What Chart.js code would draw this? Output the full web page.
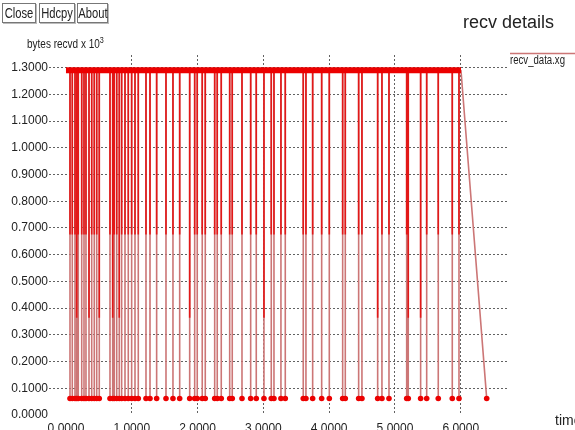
<!DOCTYPE html>
<html>
<head>
<meta charset="utf-8">
<title>recv details</title>
<script src="https://cdn.jsdelivr.net/npm/chart.js@4.4.1/dist/chart.umd.min.js"></script>
<style>
  body { margin: 0; background: #fff; }
  #wrap { position: relative; width: 575px; height: 430px; overflow: hidden;
          font-family: "Liberation Sans", Arial, sans-serif; color: #222; }
  #wrap canvas { position: absolute; left: 0; top: 0; }
  .btn { position: absolute; top: 3px; height: 18px; border: 1px solid #777;
         box-shadow: 1px 1px 0 #bbb; background: #fff; }
  .btn span { position: absolute; left: 50%; top: 0; line-height: 18px; font-size: 14px;
              white-space: nowrap; transform: translateX(-50%) scaleX(0.8); }
  #title { position: absolute; left: 463px; top: 13px; line-height: 18px; font-size: 18px; }
  #ylabel { position: absolute; left: 27px; top: 34px; line-height: 12px; font-size: 12.5px;
            transform: scaleX(0.8); transform-origin: left top; white-space: nowrap; }
  #ylabel sup { font-size: 9px; vertical-align: 5px; }
  #xlabel { position: absolute; left: 555px; top: 413px; font-size: 14px; line-height: 14px;
            white-space: nowrap; }
</style>
</head>
<body>
<div id="wrap">
  <canvas id="recvChart" width="575" height="430"></canvas>
  <div class="btn" style="left:2px;width:32px;"><span>Close</span></div>
  <div class="btn" style="left:39px;width:34px;"><span>Hdcpy</span></div>
  <div class="btn" style="left:77px;width:29px;"><span>About</span></div>
  <div id="title">recv details</div>
  <div id="ylabel">bytes recvd x 10<sup>3</sup></div>
  <div id="xlabel">time</div>
</div>
<script>
// --- DATA ---
const TOP_LEVEL = 1.29;    // full segment, bytes x 10^3
const LOW_LEVEL = 0.062;   // ack-sized drop
const MID_LEVEL = 0.675;
const DEEP_LEVEL = 0.364;

const spikeTimes = [
    0.061, 0.096, 0.137, 0.163, 0.187, 0.239, 0.274, 0.304, 0.350, 0.391, 0.430, 0.467, 0.506,
    0.669, 0.710, 0.734, 0.771, 0.810, 0.846, 0.897, 0.947, 0.998, 1.049, 1.099,
    1.216, 1.277, 1.378, 1.520, 1.626, 1.728, 1.880, 1.956, 1.995, 2.071, 2.117,
    2.260, 2.299, 2.360, 2.488, 2.527, 2.675, 2.807, 2.892, 3.009, 3.120, 3.161,
    3.267, 3.333, 3.606, 3.647, 3.749, 3.886, 4.002, 4.205, 4.245, 4.448, 4.498,
    4.737, 4.802, 4.909, 5.178, 5.202, 5.390, 5.482, 5.658, 5.871, 5.973
];
const deepSpikes = [0.163, 0.350, 0.506, 0.710, 0.810, 1.880, 3.009, 4.737, 5.202, 5.390];
const startTime = 0.0;
const lastTopTime = 6.003;
const finalTime = 6.394;

const xTicks = [0, 1, 2, 3, 4, 5, 6];
const yTicks = [0, 0.1, 0.2, 0.3, 0.4, 0.5, 0.6, 0.7, 0.8, 0.9, 1.0, 1.1, 1.2, 1.3];

// --- BUILD SERIES ---
function buildMainPath() {
    const pts = [{ x: startTime, y: TOP_LEVEL }];
    spikeTimes.forEach(t => {
        pts.push({ x: t, y: TOP_LEVEL }, { x: t, y: LOW_LEVEL }, { x: t, y: TOP_LEVEL });
    });
    pts.push({ x: lastTopTime, y: TOP_LEVEL }, { x: finalTime, y: LOW_LEVEL });
    return pts;
}

function buildOverlayPath() {
    const pts = [];
    spikeTimes.forEach(t => {
        const lvl = deepSpikes.includes(t) ? DEEP_LEVEL : MID_LEVEL;
        pts.push({ x: t, y: TOP_LEVEL }, { x: t, y: lvl }, { x: t, y: TOP_LEVEL });
    });
    return pts;
}

const FONT = '"Liberation Sans", Arial, sans-serif';

// legend line + text, top right like xgraph
const xgLegend = {
    id: 'xgLegend',
    afterDraw(chart) {
        const ctx = chart.ctx;
        const ds = chart.data.datasets[2];
        ctx.save();
        ctx.strokeStyle = ds.borderColor;
        ctx.lineWidth = 1.5;
        ctx.beginPath();
        ctx.moveTo(510, 53.5);
        ctx.lineTo(575, 53.5);
        ctx.stroke();
        ctx.fillStyle = '#222';
        ctx.font = '12px ' + FONT;
        ctx.textBaseline = 'alphabetic';
        ctx.translate(510, 64);
        ctx.scale(0.8, 1);
        ctx.fillText(ds.label, 0, 0);
        ctx.restore();
    }
};

const gridColor = c => (c.tick && c.tick.value === 0) ? 'rgba(0,0,0,0)' : 'rgba(70,70,70,0.85)';

new Chart(document.getElementById('recvChart'), {
    type: 'line',
    data: {
        datasets: [
            {
                label: 'band',
                data: [{ x: startTime, y: TOP_LEVEL }, { x: lastTopTime, y: TOP_LEVEL }],
                borderColor: 'rgb(236,0,0)', borderWidth: 6, pointRadius: 0
            },
            {
                label: 'overlay',
                data: buildOverlayPath(),
                borderColor: 'rgb(226,24,24)', borderWidth: 1.6, pointRadius: 0,
                borderJoinStyle: 'bevel'
            },
            {
                label: 'recv_data.xg',
                data: buildMainPath(),
                borderColor: 'rgb(204,118,118)', borderWidth: 1.6, borderJoinStyle: 'bevel',
                pointRadius: c => (c.raw && c.raw.y < 1) ? 2.8 : 0,
                pointBackgroundColor: 'rgb(236,0,0)', pointBorderWidth: 0
            }
        ]
    },
    options: {
        responsive: false,
        animation: false,
        events: [],
        layout: { padding: { top: 55, right: 66, bottom: 0, left: 0 } },
        plugins: { legend: { display: false }, tooltip: { enabled: false } },
        elements: { line: { tension: 0 } },
        scales: {
            x: {
                type: 'linear',
                min: -0.258, max: 6.733,
                afterBuildTicks: s => { s.ticks = xTicks.map(v => ({ value: v })); },
                afterFit: s => { s.height = 15; },
                grid: { color: gridColor, drawTicks: false, lineWidth: 1 },
                border: { display: false, dash: [2, 2] },
                ticks: { autoSkip: false, maxRotation: 0, padding: 6, color: '#222',
                         font: { family: FONT, size: 12 }, callback: v => v.toFixed(4) }
            },
            y: {
                type: 'linear',
                min: 0, max: 1.347,
                afterBuildTicks: s => { s.ticks = yTicks.map(v => ({ value: v })); },
                afterFit: s => { s.width = 49; },
                grid: { color: gridColor, drawTicks: false, lineWidth: 1 },
                border: { display: false, dash: [2, 2] },
                ticks: { autoSkip: false, padding: 1, color: '#222',
                         font: { family: FONT, size: 12 }, callback: v => v.toFixed(4) }
            }
        }
    },
    plugins: [xgLegend]
});
</script>
</body>
</html>
